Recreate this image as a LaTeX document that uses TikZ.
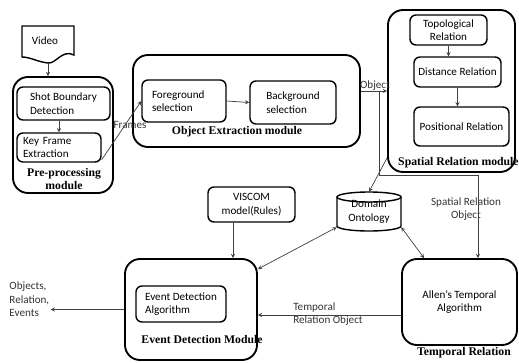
\documentclass[tikz,border=0pt]{standalone}
\usepackage{fontspec}
\setmainfont{Carlito}
\newfontfamily\titlefont{Liberation Serif}
\usetikzlibrary{calc}
\newlength\px
\setlength\px{0.3mm}
\tikzset{
  inbox/.style={draw, line width=1.2pt, rounded corners=1.8mm, inner sep=2pt, font=\fontsize{9.5}{11.5}\selectfont},
  module/.style={draw, line width=1.6pt, rounded corners=4.5mm},
  modtitle/.style={font=\titlefont\bfseries\fontsize{10}{11}\selectfont, align=center, inner sep=0pt},
  conn/.style={->, >=stealth, line width=0.6pt, black!75},
  lbl/.style={font=\fontsize{9.5}{11.5}\selectfont, inner sep=1pt, black!80},
}

\begin{document}
\begin{tikzpicture}[x=0.3mm, y=-0.3mm]
        \useasboundingbox (0,0) rectangle (519,362);
        \clip (0,0) rectangle (519,362);
        % video (document shape)
        \draw[line width=1.2pt] (22,26) -- (74,26) -- (74,55) .. controls (62,49) and (56,64) .. (48,63) .. controls (38,62) and (30,57) .. (22,57) -- cycle;
        \node[lbl, black] (video) at (45,41) {Video};
        \coordinate (vidout) at (48,63);

        % pre-processing module
        \node[module, minimum width=100\px, minimum height=116\px] (pre) at (63,135) {};
        \node[inbox, minimum width=93\px, minimum height=33\px, align=left] (shot) at (63.5,103.5) {Shot Boundary\\Detection};
        \node[inbox, minimum width=84\px, minimum height=29\px, text width=72\px, align=left] (key) at (59,147.5) {Key Frame\\Extraction};
        \node[modtitle] (pretitle) at (64,179) {Pre-processing\\module};

        % object extraction module
        \node[module, minimum width=227\px, minimum height=92\px] (objext) at (246.5,101) {};
        \node[inbox, minimum width=84\px, minimum height=42\px, text width=64\px, align=left] (fg) at (184,101) {Foreground\\selection};
        \node[inbox, minimum width=86\px, minimum height=43\px, align=left] (bg) at (293,102.5) {Background\\selection};
        \node[modtitle] (objtitle) at (237,132) {Object Extraction module};

        % spatial relation module
        \node[module, minimum width=127\px, minimum height=162\px] (spatial) at (451.5,91) {};
        \node[inbox, minimum width=77\px, minimum height=30\px, align=center] (topo) at (448.5,30) {Topological\\Relation};
        \node[inbox, minimum width=87\px, minimum height=30\px] (dist) at (457.5,72) {Distance Relation};
        \node[inbox, minimum width=95\px, minimum height=39\px] (pos) at (461.5,126.5) {Positional Relation};
        \node[modtitle, anchor=west] (spattitle) at (398,163) {Spatial Relation module};

        % rules and ontology
        \node[inbox, minimum width=87\px, minimum height=35\px, align=center] (viscom) at (251.5,204.5) {VISCOM\\model(Rules)};
        \draw[line width=1.2pt] (369,197) ellipse [x radius=32\px, y radius=5\px];
        \draw[line width=1.2pt] (337,197) -- (337,226) arc[start angle=180, end angle=360, x radius=32\px, y radius=5\px] -- (401,197);
        \node[lbl, black, align=center, minimum width=64\px, minimum height=39\px] (onto) at (369,211.5) {Domain\\Ontology};

        % event detection module
        \node[module, minimum width=132\px, minimum height=101\px] (event) at (191,309.5) {};
        \node[inbox, minimum width=90\px, minimum height=36\px, align=left] (edalg) at (181,304) {Event Detection\\Algorithm};
        \node[modtitle] (evtitle) at (202,340) {Event Detection Module};

        % temporal relation
        \node[module, minimum width=115\px, minimum height=86\px, align=center, font=\fontsize{9.5}{11.5}\selectfont] (allen) at (459.5,302) {Allen’s Temporal\\Algorithm};
        \node[modtitle] (temptitle) at (464,353) {Temporal Relation};

        % labels
        \node[lbl, align=left, anchor=west] (out) at (8,299.5) {Objects,\\Relation,\\Events};
        \node[lbl] (framesl) at (130,125) {Frames};
        \node[lbl] (objl) at (375,86) {Object};
        \node[lbl, align=center] (spobjl) at (466,209) {Spatial Relation\\Object};
        \node[lbl, align=left] (tempobjl) at (328,314) {Temporal\\Relation Object};

        % connectors
        \draw[conn] (vidout) -- (vidout |- pre.north);
        \draw[conn] (key.north |- shot.south) -- (key.north);
        \draw[conn] ($(key.south east)+(0,-3)$) -- (fg.west);
        \draw[conn] (fg.east) -- (bg.west);
        \draw[conn] (spatial.west -| objext.east) -- (spatial.west);
        \coordinate (split) at ($(spatial.west -| objext.east)!0.7!(spatial.west)$);
        \draw[conn] (split) -- ++(0,84) -| ($(allen.north)+(18.5,0)$);
        \draw[conn] (topo.south) -- (topo.south |- dist.north);
        \draw[conn] (dist.south) -- (dist.south |- pos.north);
        \draw[conn] ($(spatial.south west)+(0,-15)$) -- (onto.north);
        \draw[conn, <->] ($(onto.south west)+(0,-4)$) -- ($(event.north east)+(0,11)$);
        \draw[conn, <->] ($(onto.south east)+(0,-4)$) -- ($(allen.north west)+(23,0)$);
        \coordinate (visout) at ($(viscom.south)+(-18.5,0)$);
        \draw[conn] (visout) -- (visout |- event.north);
        \coordinate (tempout) at ($(allen.west)+(0,13)$);
        \draw[conn] (tempout) -- (tempout -| event.east);
        \draw[conn] (event.west) -- (event.west -| out.east);
      \end{tikzpicture}
\end{document}
